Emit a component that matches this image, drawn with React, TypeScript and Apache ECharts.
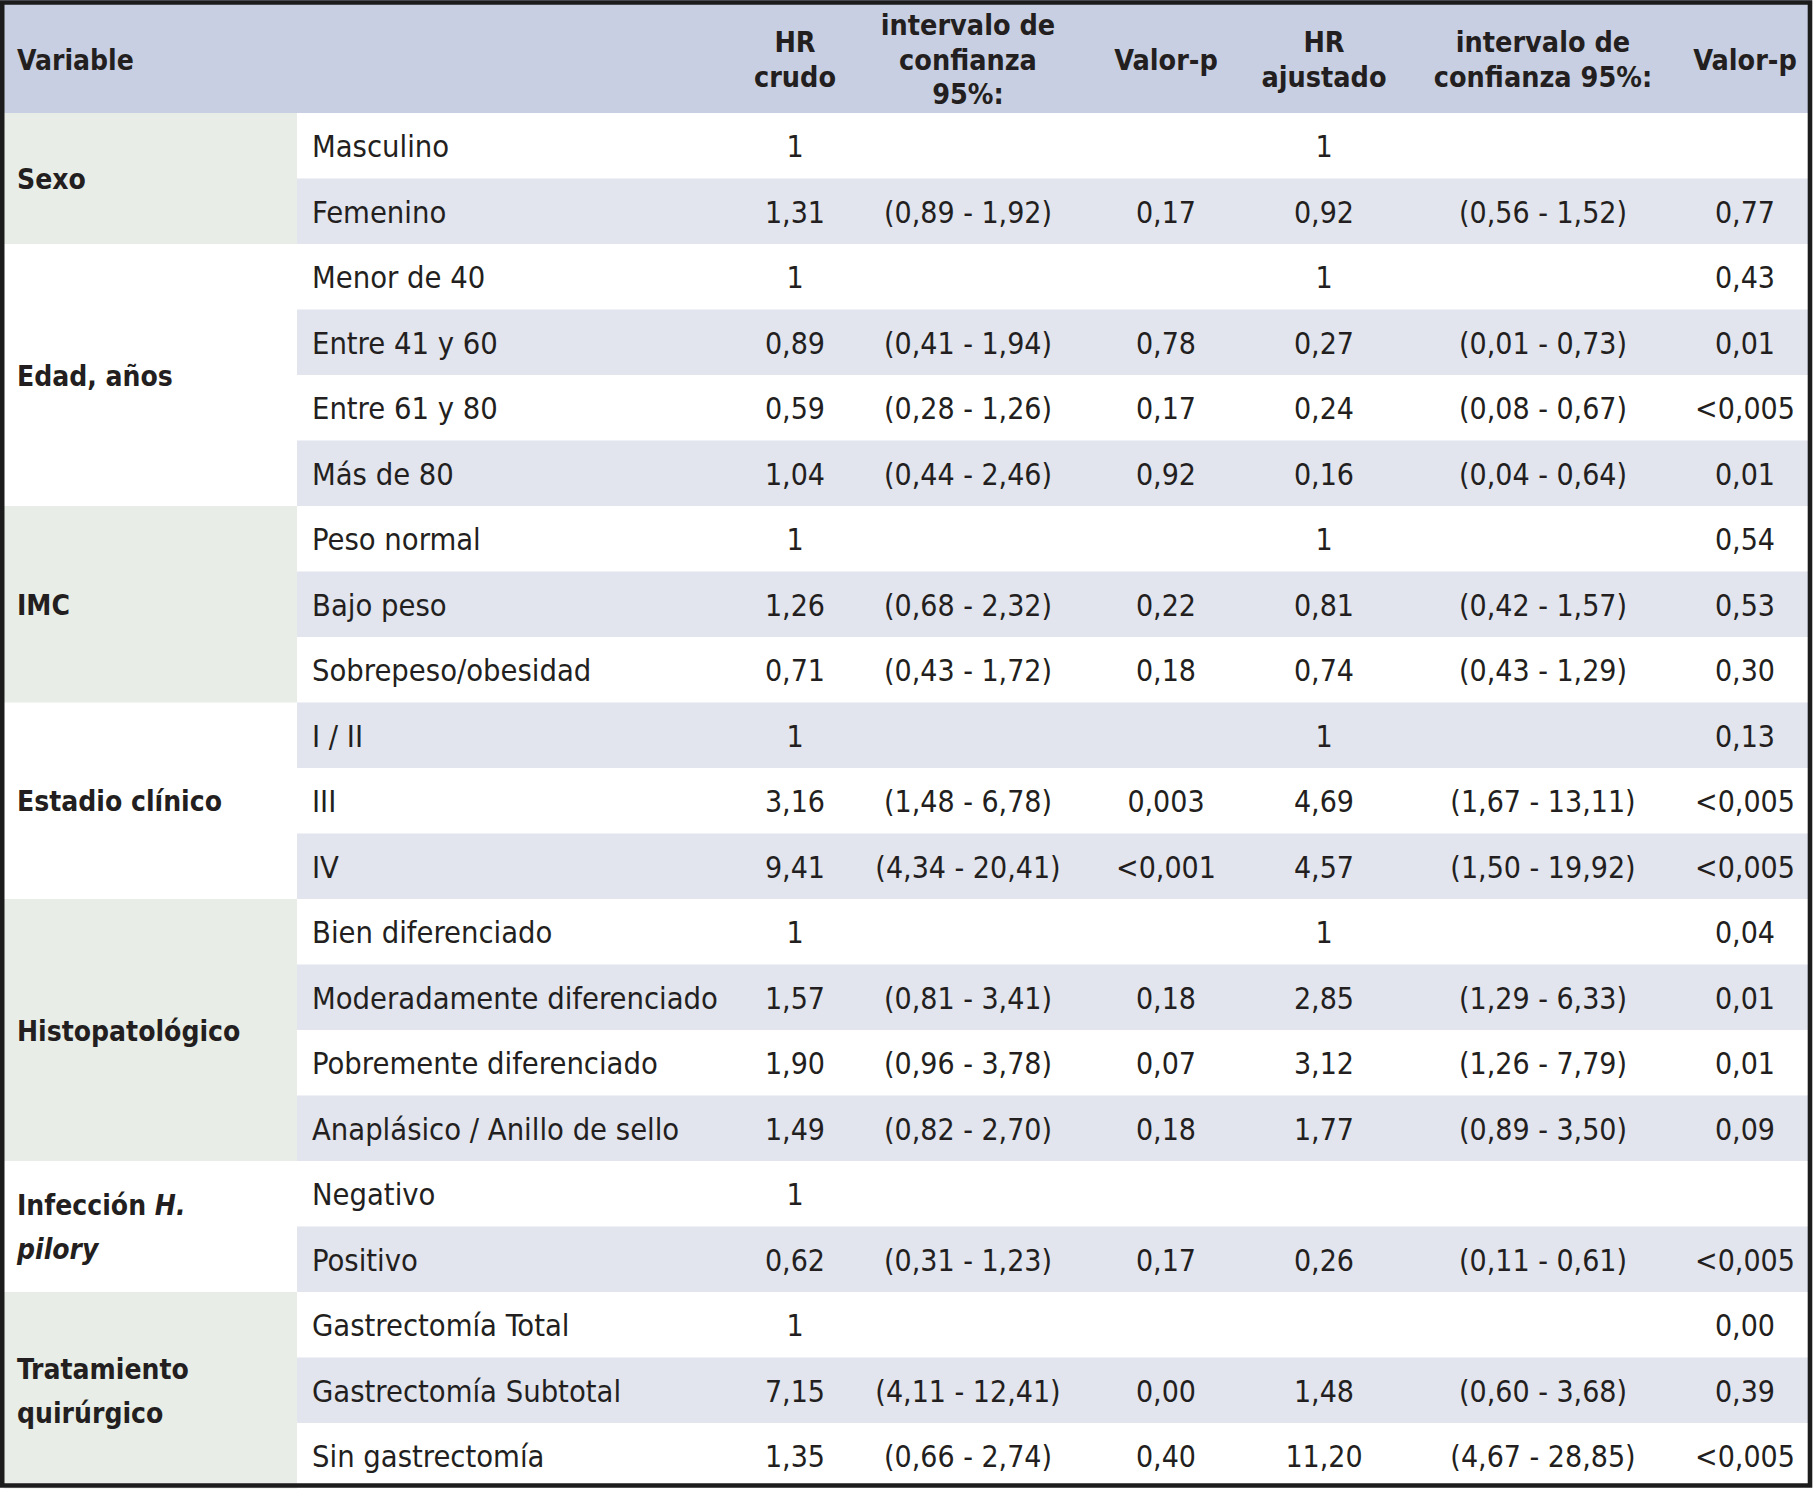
import React, { useEffect, useRef } from "react";
import * as echarts from "echarts";

// ---- table data ----
const subLabels = [
  "Masculino", "Femenino",
  "Menor de 40", "Entre 41 y 60", "Entre 61 y 80", "Más de 80",
  "Peso normal", "Bajo peso", "Sobrepeso/obesidad",
  "I / II", "III", "IV",
  "Bien diferenciado", "Moderadamente diferenciado", "Pobremente diferenciado", "Anaplásico / Anillo de sello",
  "Negativo", "Positivo",
  "Gastrectomía Total", "Gastrectomía Subtotal", "Sin gastrectomía",
];
const hrCrudo = ["1", "1,31", "1", "0,89", "0,59", "1,04", "1", "1,26", "0,71", "1", "3,16", "9,41", "1", "1,57", "1,90", "1,49", "1", "0,62", "1", "7,15", "1,35"];
const icCrudo = ["", "(0,89 - 1,92)", "", "(0,41 - 1,94)", "(0,28 - 1,26)", "(0,44 - 2,46)", "", "(0,68 - 2,32)", "(0,43 - 1,72)", "", "(1,48 - 6,78)", "(4,34 - 20,41)", "", "(0,81 - 3,41)", "(0,96 - 3,78)", "(0,82 - 2,70)", "", "(0,31 - 1,23)", "", "(4,11 - 12,41)", "(0,66 - 2,74)"];
const pCrudo = ["", "0,17", "", "0,78", "0,17", "0,92", "", "0,22", "0,18", "", "0,003", "<0,001", "", "0,18", "0,07", "0,18", "", "0,17", "", "0,00", "0,40"];
const hrAjustado = ["1", "0,92", "1", "0,27", "0,24", "0,16", "1", "0,81", "0,74", "1", "4,69", "4,57", "1", "2,85", "3,12", "1,77", "", "0,26", "", "1,48", "11,20"];
const icAjustado = ["", "(0,56 - 1,52)", "", "(0,01 - 0,73)", "(0,08 - 0,67)", "(0,04 - 0,64)", "", "(0,42 - 1,57)", "(0,43 - 1,29)", "", "(1,67 - 13,11)", "(1,50 - 19,92)", "", "(1,29 - 6,33)", "(1,26 - 7,79)", "(0,89 - 3,50)", "", "(0,11 - 0,61)", "", "(0,60 - 3,68)", "(4,67 - 28,85)"];
const pAjustado = ["", "0,77", "0,43", "0,01", "<0,005", "0,01", "0,54", "0,53", "0,30", "0,13", "<0,005", "<0,005", "0,04", "0,01", "0,01", "0,09", "", "<0,005", "0,00", "0,39", "<0,005"];

const groupLabels = [
  "{b|Sexo}",
  "{b|Edad, años}",
  "{b|IMC}",
  "{b|Estadio clínico}",
  "{b|Histopatológico}",
  "{b|Infección }{bi|H.}\n{bi|pilory}",
  "{b|Tratamiento}\n{b|quirúrgico}",
];
const groupStart = [0, 2, 6, 9, 12, 16, 18];
const groupEnd = [1, 5, 8, 11, 15, 17, 20];

const headerLabels = [
  "HR\ncrudo",
  "intervalo de\nconfianza\n95%:",
  "Valor-p",
  "HR\najustado",
  "intervalo de\nconfianza 95%:",
  "Valor-p",
];

// ---- layout / style ----
const W = 1816;
const H = 1494;
const TOP = 113;
const BOTTOM_EDGE = 1488.5;
const COL_SPLIT = 297;
const SUB_X = 312;
const GROUP_X = 17;
const COL_CENTERS = [795, 968, 1166, 1324, 1543, 1745];
const FONT = "'DejaVu Sans Condensed', 'DejaVu Sans', sans-serif";
const TEXT = "#231f20";
const HEADER_BG = "#c9cfe2";
const ROW_SHADE = "#e2e4ee";
const GROUP_SHADE = "#e9ede8";
const BORDER = "#1c1c1c";

export default function App() {
  const ref = useRef<HTMLDivElement>(null);

  useEffect(() => {
    document.body.style.margin = "0";
    if (!ref.current) return;
    const chart = echarts.init(ref.current, null, { renderer: "svg" });

    const rowCols = [hrCrudo, icCrudo, pCrudo, hrAjustado, icAjustado, pAjustado];

    const option: any = {
      animation: false,
      backgroundColor: "#ffffff",
      grid: { left: 0, right: 0, top: TOP, bottom: H - BOTTOM_EDGE },
      xAxis: { type: "value", min: 0, max: W, show: false },
      yAxis: {
        type: "category",
        data: subLabels.map((_, i) => String(i)),
        inverse: true,
        show: false,
        boundaryGap: true,
      },
      graphic: [
        {
          type: "rect",
          z: 0,
          shape: { x: 0, y: 0, width: 1812, height: TOP },
          style: { fill: HEADER_BG },
        },
        {
          type: "text",
          z: 5,
          style: {
            text: "Variable",
            x: GROUP_X,
            y: 60,
            verticalAlign: "middle",
            align: "left",
            fill: TEXT,
            fontFamily: FONT,
            fontWeight: "bold",
            fontSize: 28,
          },
        },
        ...headerLabels.map((t, k) => ({
          type: "text",
          z: 5,
          style: {
            text: t,
            x: COL_CENTERS[k],
            y: 60,
            align: "center",
            verticalAlign: "middle",
            fill: TEXT,
            fontFamily: FONT,
            fontWeight: "bold",
            fontSize: 28.5,
            lineHeight: 34.5,
          },
        })),
        {
          type: "rect",
          z: 100,
          shape: { x: 2.2, y: 2.5, width: 1807.8, height: 1483 },
          style: { fill: "none", stroke: BORDER, lineWidth: 4.6 },
        },
      ],
      series: [
        {
          type: "custom",
          name: "rows",
          coordinateSystem: "cartesian2d",
          z: 2,
          data: subLabels.map((_, i) => [0, i]),
          renderItem: (params: any, api: any) => {
            const i = api.value(1);
            const c = api.coord([COL_SPLIT, i]);
            const right = api.coord([1812, i])[0];
            const h = api.size([0, 1])[1];
            const top = c[1] - h / 2;
            const children: any[] = [];
            if (i % 2 === 1) {
              children.push({
                type: "rect",
                shape: { x: c[0], y: top, width: right - c[0], height: h },
                style: { fill: ROW_SHADE },
              });
            }
            children.push({
              type: "text",
              style: {
                text: subLabels[i],
                x: api.coord([SUB_X, i])[0],
                y: c[1] + 1,
                align: "left",
                verticalAlign: "middle",
                fill: TEXT,
                fontFamily: FONT,
                fontSize: 30.6,
              },
            });
            rowCols.forEach((col, k) => {
              if (!col[i]) return;
              children.push({
                type: "text",
                style: {
                  text: col[i],
                  x: api.coord([COL_CENTERS[k], i])[0],
                  y: c[1] + 1,
                  align: "center",
                  verticalAlign: "middle",
                  fill: TEXT,
                  fontFamily: FONT,
                  fontSize: 30,
                },
              });
            });
            return { type: "group", children };
          },
        },
        {
          type: "custom",
          name: "groups",
          coordinateSystem: "cartesian2d",
          z: 3,
          data: groupLabels.map((_, g) => [0, groupStart[g], groupEnd[g], g]),
          renderItem: (params: any, api: any) => {
            const s = api.value(1);
            const e = api.value(2);
            const g = api.value(3);
            const h = api.size([0, 1])[1];
            const a = api.coord([4, s]);
            const b = api.coord([COL_SPLIT, e]);
            const top = a[1] - h / 2;
            const bottom = b[1] + h / 2;
            const children: any[] = [];
            if (g % 2 === 0) {
              children.push({
                type: "rect",
                shape: { x: a[0], y: top, width: b[0] - a[0], height: bottom - top },
                style: { fill: GROUP_SHADE },
              });
            }
            children.push({
              type: "text",
              style: {
                text: groupLabels[g],
                x: api.coord([GROUP_X, s])[0],
                y: (top + bottom) / 2 + 1,
                align: "left",
                verticalAlign: "middle",
                fill: TEXT,
                rich: {
                  b: { fontFamily: FONT, fontWeight: "bold", fontSize: 28, lineHeight: 44, fill: TEXT, color: TEXT },
                  bi: { fontFamily: FONT, fontWeight: "bold", fontStyle: "italic", fontSize: 28, lineHeight: 44, fill: TEXT, color: TEXT },
                },
              },
            });
            return { type: "group", children };
          },
        },
      ],
    };

    chart.setOption(option);
    return () => chart.dispose();
  }, []);

  return <div ref={ref} style={{ width: W, height: H }} />;
}
